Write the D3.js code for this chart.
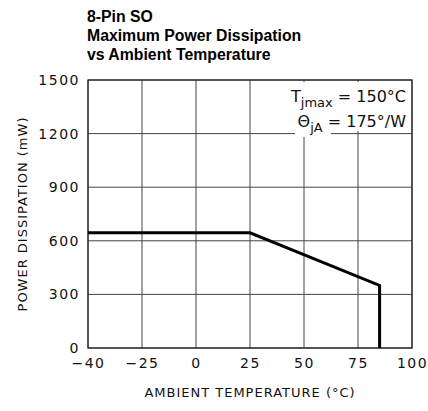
<!DOCTYPE html>
<html>
<head>
<meta charset="utf-8">
<script src="https://cdn.jsdelivr.net/npm/d3@7"></script>
<style>
  body { margin: 0; background: #fff; }
  .tick text, .lbl { font-family: "DejaVu Sans", sans-serif; fill: #111; }
</style>
</head>
<body>
<svg id="chart" width="428" height="411"></svg>
<script>
// chart data
var titleLines = ['8-Pin SO', 'Maximum Power Dissipation', 'vs Ambient Temperature'];
var xTicks = [-40, -25, 0, 25, 50, 75, 100];
var yTicks = [0, 300, 600, 900, 1200, 1500];
var temps = [-40, 25, 85, 85];
var power = [645, 645, 350, 0];

var svg = d3.select('#chart');
var margin = {top: 80, right: 16, bottom: 63, left: 88};
var w = +svg.attr('width'), h = +svg.attr('height');
var pw = w - margin.left - margin.right;
var ph = h - margin.top - margin.bottom;

// the x axis is drawn with evenly spaced ticks, -40..-25 gets the same width as the others
var xScale = d3.scaleLinear()
    .domain(xTicks)
    .range(xTicks.map(function (d, i) { return i * pw / (xTicks.length - 1); }));
var yScale = d3.scaleLinear().domain([0, 1500]).range([ph, 0]);

// title
svg.append('g').selectAll('text')
    .data(titleLines)
    .enter().append('text')
    .attr('x', 87)
    .attr('y', function (d, i) { return 22 + i * 19; })
    .style('font-family', '"Liberation Sans", Arial, sans-serif')
    .style('font-weight', 'bold')
    .style('font-size', '15.8px')
    .text(function (d) { return d; });

var g = svg.append('g').attr('transform', 'translate(' + margin.left + ',' + margin.top + ')');

// grid
g.append('g').selectAll('line.vg')
    .data(xTicks)
    .enter().append('line')
    .attr('x1', d => xScale(d)).attr('x2', d => xScale(d))
    .attr('y1', 0).attr('y2', ph)
    .attr('stroke', '#444').attr('stroke-width', 1);
g.append('g').selectAll('line.hg')
    .data(yTicks)
    .enter().append('line')
    .attr('x1', 0).attr('x2', pw)
    .attr('y1', d => yScale(d)).attr('y2', d => yScale(d))
    .attr('stroke', '#444').attr('stroke-width', 1);
g.append('rect')
    .attr('width', pw).attr('height', ph)
    .attr('fill', 'none').attr('stroke', '#222').attr('stroke-width', 1.2);

// axes (labels only)
var xAxis = d3.axisBottom(xScale).tickValues(xTicks).tickSize(0).tickPadding(10)
    .tickFormat(d => d < 0 ? '\u2212' + Math.abs(d) : d);
var yAxis = d3.axisLeft(yScale).tickValues(yTicks).tickSize(0).tickPadding(8)
    .tickFormat(d3.format('d'));

g.append('g').attr('transform', 'translate(0,' + ph + ')').call(xAxis)
    .call(a => a.select('.domain').remove())
    .selectAll('text').style('font-size', '14px').attr('letter-spacing', '1.5px');
g.append('g').call(yAxis)
    .call(a => a.select('.domain').remove())
    .selectAll('text').style('font-size', '14px').attr('letter-spacing', '1.5px');

// derating curve
var line = d3.line()
    .x(function (d, i) { return xScale(temps[i]); })
    .y(function (d) { return yScale(d); });
g.append('path')
    .datum(power)
    .attr('d', line)
    .attr('fill', 'none')
    .attr('stroke', '#000')
    .attr('stroke-width', 3);

// annotation box
g.append('rect').attr('x', 196).attr('y', 2).attr('width', 124).attr('height', 49).attr('fill', '#fff');
g.append('rect').attr('x', 207).attr('y', 50).attr('width', 36).attr('height', 7).attr('fill', '#fff');
var ann1 = g.append('text').attr('class', 'lbl').attr('x', 318).attr('y', 22)
    .attr('text-anchor', 'end').style('font-size', '16px');
ann1.append('tspan').text('T');
ann1.append('tspan').attr('dy', 5).style('font-size', '13px').text('jmax');
ann1.append('tspan').attr('dy', -5).text(' = 150\u00b0C');
var ann2 = g.append('text').attr('class', 'lbl').attr('x', 318).attr('y', 47)
    .attr('text-anchor', 'end').style('font-size', '16px');
ann2.append('tspan').text('\u0398');
ann2.append('tspan').attr('dy', 5).style('font-size', '13px').text('jA');
ann2.append('tspan').attr('dy', -5).text(' = 175\u00b0/W');

// axis titles
svg.append('text').attr('class', 'lbl')
    .attr('x', margin.left + pw / 2).attr('y', 397)
    .attr('text-anchor', 'middle').style('font-size', '13px').attr('letter-spacing', '1px')
    .text('AMBIENT TEMPERATURE (\u00b0C)');
svg.append('text').attr('class', 'lbl')
    .attr('transform', 'translate(27,' + (margin.top + ph / 2) + ') rotate(-90)')
    .attr('text-anchor', 'middle').style('font-size', '13px').attr('letter-spacing', '1px')
    .text('POWER DISSIPATION (mW)');
</script>
</body>
</html>
